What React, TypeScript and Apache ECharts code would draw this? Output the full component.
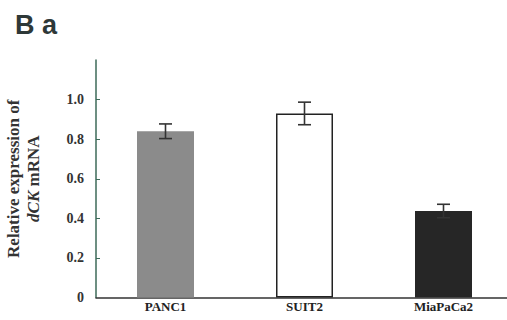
import React, { useEffect, useRef } from "react";
import * as echarts from "echarts";

const categories = ["PANC1", "SUIT2", "MiaPaCa2"];
const means = [0.84, 0.93, 0.437];
const errors = [0.037, 0.057, 0.034];
const barColors = ["#8b8b8b", "#ffffff", "#262626"];
const yTickValues = [0.2, 0.4, 0.6, 0.8, 1.0];

const SERIF = "Liberation Serif";

export default function App() {
  const ref = useRef<HTMLDivElement>(null);
  useEffect(() => {
    if (!ref.current) return;
    const chart = echarts.init(ref.current, null, { renderer: "svg" });
    chart.setOption({
      animation: false,
      backgroundColor: "#ffffff",
      textStyle: { fontFamily: SERIF },
      graphic: [
        {
          type: "text",
          left: 15,
          top: 11,
          style: {
            text: "B a",
            font: "bold 27px 'Liberation Sans', Arial, sans-serif",
            fill: "#2e3838",
          },
        },
      ],
      grid: { left: 96, right: -6, top: 60, bottom: 22.5, containLabel: false, outerBoundsMode: "none" },
      xAxis: {
        type: "category",
        data: categories,
        axisLine: { show: true, lineStyle: { color: "#333333", width: 1.5 } },
        axisTick: { show: false },
        axisLabel: {
          margin: 2,
          fontFamily: SERIF,
          fontWeight: "bold",
          fontSize: 13,
          color: "#222222",
        },
      },
      yAxis: {
        type: "value",
        min: 0,
        max: 1.2,
        interval: 0.2,
        splitLine: { show: false },
        axisLine: { show: true, lineStyle: { color: "#3d6a58", width: 1.5 } },
        axisTick: {
          show: true,
          inside: true,
          length: 4,
          customValues: yTickValues,
          lineStyle: { color: "#3d6a58", width: 1 },
        },
        axisLabel: {
          margin: 12,
          showMaxLabel: false,
          fontFamily: SERIF,
          fontWeight: "bold",
          fontSize: 14,
          color: "#333333",
          formatter: (v: number) => (v === 0 ? "0" : v >= 1.1 ? "" : v.toFixed(1)),
        },
        name: "Relative expression of\n{i|dCK} mRNA",
        nameLocation: "middle",
        nameRotate: 90,
        nameGap: 53,
        nameTextStyle: {
          fontFamily: SERIF,
          fontWeight: "bold",
          fontSize: 17,
          color: "#333333",
          lineHeight: 20,
          rich: {
            i: {
              fontFamily: SERIF,
              fontWeight: "bold",
              fontStyle: "italic",
              fontSize: 17,
              color: "#333333",
              lineHeight: 20,
            },
          },
        },
      },
      series: [
        {
          type: "bar",
          barWidth: 57,
          data: means.map((v, i) => ({
            value: v,
            itemStyle: {
              color: barColors[i],
              borderColor: "#222222",
              borderWidth: i === 1 ? 1.5 : 0,
            },
          })),
          z: 2,
        },
        {
          type: "custom",
          z: 3,
          data: means.map((v, i) => [i, v - errors[i], v + errors[i]]),
          renderItem: (params: any, api: any) => {
            const x = api.value(0);
            const lo = api.coord([x, api.value(1)]);
            const hi = api.coord([x, api.value(2)]);
            const half = 6.5;
            const style = { stroke: "#333333", lineWidth: 1.6 };
            return {
              type: "group",
              children: [
                { type: "line", shape: { x1: lo[0], y1: lo[1], x2: hi[0], y2: hi[1] }, style },
                { type: "line", shape: { x1: hi[0] - half, y1: hi[1], x2: hi[0] + half, y2: hi[1] }, style },
                { type: "line", shape: { x1: lo[0] - half, y1: lo[1], x2: lo[0] + half, y2: lo[1] }, style },
              ],
            };
          },
        },
      ],
    });
    return () => chart.dispose();
  }, []);
  return <div ref={ref} style={{ width: 507, height: 320, position: "absolute", left: 0, top: 0 }} />;
}
